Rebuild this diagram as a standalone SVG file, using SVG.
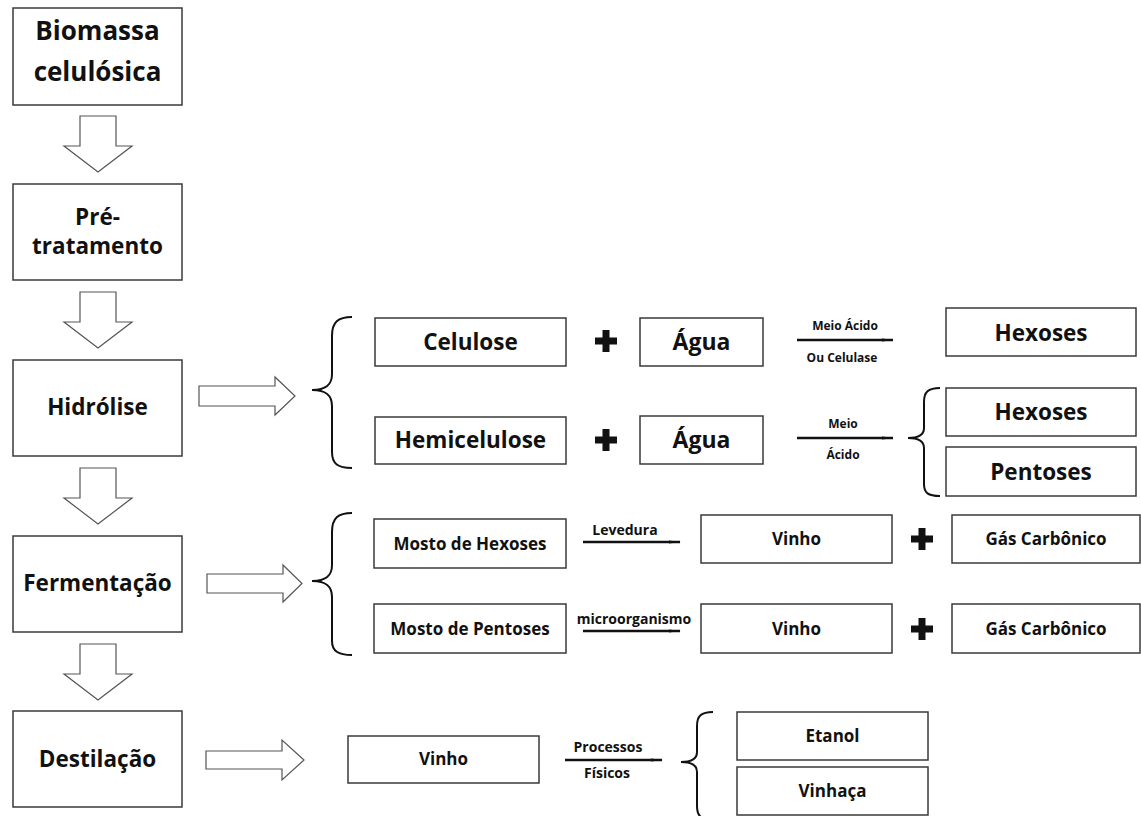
<svg xmlns="http://www.w3.org/2000/svg" width="1141" height="816" viewBox="0 0 1141 816">
<style>
.box{fill:#fff;stroke:#3a3a3a;stroke-width:1.5}
.blk{fill:#fff;stroke:#555;stroke-width:1.2}
.br{fill:none;stroke:#111;stroke-width:2}
.ln{fill:none;stroke:#111;stroke-width:2.4;marker-end:url(#ah)}
text{font-family:"Open Sans",Lato,"Liberation Sans",sans-serif;font-weight:bold;fill:#111;text-anchor:middle}
.t26{font-size:26px}
.t22{font-size:22.5px}
.t23{font-size:23px}
.t16{font-size:17px}
.t12{font-size:12px}
.t13{font-size:14px}
.plus{fill:#111}
</style>
<defs>
<marker id="ah" markerWidth="12" markerHeight="6" refX="11" refY="3" orient="auto" markerUnits="userSpaceOnUse">
<path d="M0,1.5 L12,3 L0,4.5 Z" fill="#111"/>
</marker>
<path id="downarrow" d="M80,0 L116,0 L116,30 L132,30 L98,56 L64,30 L80,30 Z"/>
<path id="plusshape" d="M-3.5,-11 L3.5,-11 L3.5,-3.5 L11,-3.5 L11,3.5 L3.5,3.5 L3.5,11 L-3.5,11 L-3.5,3.5 L-11,3.5 L-11,-3.5 L-3.5,-3.5 Z"/>
</defs>

<g id="biomassa"><rect class="box" x="13" y="8" width="169" height="97"/><text class="t26" x="97.5" y="40">Biomassa</text><text class="t26" x="97.5" y="81">celulósica</text></g>
<g id="pretratamento"><rect class="box" x="13" y="184" width="169" height="96"/><text class="t22" x="97.5" y="225">Pré-</text><text class="t22" x="97.5" y="254">tratamento</text></g>
<g id="hidrolise"><rect class="box" x="13" y="360" width="169" height="96"/><text class="t22" x="97.5" y="415">Hidrólise</text></g>
<g id="fermentacao"><rect class="box" x="13" y="536" width="169" height="96"/><text class="t22" x="97.5" y="591">Fermentação</text></g>
<g id="destilacao"><rect class="box" x="13" y="711" width="169" height="96"/><text class="t22" x="97.5" y="767">Destilação</text></g>

<g id="celulose"><rect class="box" x="375" y="318" width="191" height="48"/><text class="t22" x="470.5" y="350">Celulose</text></g>
<g id="hemicelulose"><rect class="box" x="375" y="417" width="191" height="47"/><text class="t22" x="470.5" y="448">Hemicelulose</text></g>
<g id="agua1"><rect class="box" x="640" y="318" width="123" height="48"/><text class="t23" x="701.5" y="350">Água</text></g>
<g id="agua2"><rect class="box" x="640" y="416" width="123" height="48"/><text class="t23" x="701.5" y="448">Água</text></g>
<g id="hexoses1"><rect class="box" x="946" y="308" width="190" height="48"/><text class="t22" x="1041" y="341">Hexoses</text></g>
<g id="hexoses2"><rect class="box" x="946" y="388" width="190" height="48"/><text class="t22" x="1041" y="420">Hexoses</text></g>
<g id="pentoses"><rect class="box" x="946" y="447" width="190" height="49"/><text class="t22" x="1041" y="480">Pentoses</text></g>

<g id="mosto-hexoses"><rect class="box" x="374" y="519" width="192" height="49"/><text class="t16" x="470" y="550">Mosto de Hexoses</text></g>
<g id="mosto-pentoses"><rect class="box" x="374" y="604" width="192" height="49"/><text class="t16" x="470" y="635">Mosto de Pentoses</text></g>
<g id="vinho1"><rect class="box" x="701" y="515" width="191" height="48"/><text class="t16" x="796.5" y="545">Vinho</text></g>
<g id="vinho2"><rect class="box" x="701" y="604" width="191" height="49"/><text class="t16" x="796.5" y="635">Vinho</text></g>
<g id="gas1"><rect class="box" x="952" y="515" width="188" height="48"/><text class="t16" x="1046" y="545">Gás Carbônico</text></g>
<g id="gas2"><rect class="box" x="952" y="604" width="188" height="49"/><text class="t16" x="1046" y="635">Gás Carbônico</text></g>

<g id="vinho3"><rect class="box" x="348" y="736" width="191" height="47"/><text class="t16" x="443.5" y="765">Vinho</text></g>
<g id="etanol"><rect class="box" x="737" y="712" width="191" height="48"/><text class="t16" x="832.5" y="742">Etanol</text></g>
<g id="vinhaca"><rect class="box" x="737" y="767" width="191" height="48"/><text class="t16" x="832.5" y="797">Vinhaça</text></g>

<g id="plus-signs">
<use href="#plusshape" class="plus" x="606" y="341"/>
<use href="#plusshape" class="plus" x="606" y="440"/>
<use href="#plusshape" class="plus" x="922" y="539"/>
<use href="#plusshape" class="plus" x="922" y="629"/>
</g>

<g id="connectors">
<use href="#downarrow" class="blk" x="0" y="116"/>
<use href="#downarrow" class="blk" x="0" y="292"/>
<use href="#downarrow" class="blk" x="0" y="468"/>
<use href="#downarrow" class="blk" x="0" y="644"/>
<path class="blk" d="M199,386 L275,386 L275,377 L295,396 L275,415 L275,406 L199,406 Z"/>
<path class="blk" d="M207,574 L283,574 L283,565 L302,583.5 L283,602 L283,593 L207,593 Z"/>
<path class="blk" d="M206,751 L282,751 L282,740 L304,760 L282,780 L282,769 L206,769 Z"/>

<path class="br" d="M352,317 C338,317 332,322 332,336 L332,374 C332,385 326,390 312,390 C326,390 332,395 332,406 L332,452 C332,464 338,468 352,468"/>
<path class="br" d="M940,388 C928,388 924,392 924,402 L924,428 C924,435 918,438 908,438 C918,438 924,441 924,448 L924,484 C924,493 928,496 940,496"/>
<path class="br" d="M352,513 C338,513 332,518 332,532 L332,565 C332,576 326,581 312,581 C326,581 332,586 332,597 L332,641 C332,651 338,655 352,655"/>
<path class="br" d="M713,712 C701,712 697,716 697,726 L697,752 C697,759 691,762 681,762 C691,762 697,765 697,772 L697,806 C697,816 701,820 713,820"/>

<path class="ln" d="M797,340 L893,340"/>
<text class="t12" x="845" y="330">Meio Ácido</text>
<text class="t12" x="842" y="362">Ou Celulase</text>
<path class="ln" d="M797,438 L893,438"/>
<text class="t12" x="843" y="428">Meio</text>
<text class="t12" x="843" y="459">Ácido</text>
<path class="ln" d="M583,542 L680,542"/>
<text class="t13" x="625" y="535">Levedura</text>
<path class="ln" d="M583,631 L680,631"/>
<text class="t13" x="634" y="624">microorganismo</text>
<path class="ln" d="M565,760 L662,760"/>
<text class="t13" x="608" y="752">Processos</text>
<text class="t13" x="607" y="778">Físicos</text>
</g>
</svg>
